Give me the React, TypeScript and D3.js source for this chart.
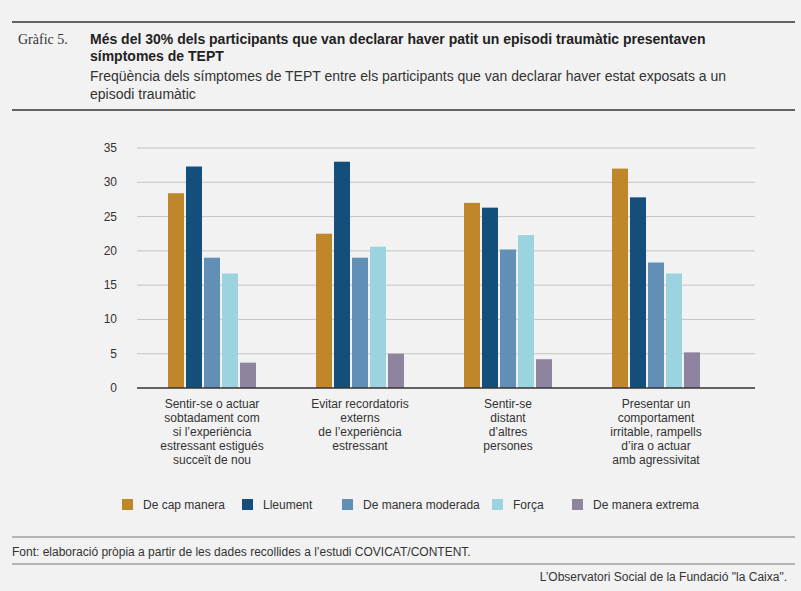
import React from "react";
import * as d3 from "d3";

const categories = [
  ["Sentir-se o actuar", "sobtadament com", "si l’experiència", "estressant estigués", "succeït de nou"],
  ["Evitar recordatoris", "externs", "de l’experiència", "estressant"],
  ["Sentir-se", "distant", "d’altres", "persones"],
  ["Presentar un", "comportament", "irritable, rampells", "d’ira o actuar", "amb agressivitat"],
];
const seriesNames = ["De cap manera", "Lleument", "De manera moderada", "Força", "De manera extrema"];
const colors = ["#C0862A", "#134F7A", "#628FB5", "#9BD3DE", "#8F84A0"];
const values = [
  [28.4, 32.3, 19.0, 16.7, 3.7],
  [22.5, 33.0, 19.0, 20.6, 5.0],
  [27.0, 26.3, 20.2, 22.3, 4.2],
  [32.0, 27.8, 18.3, 16.7, 5.2],
];
const yTicks = [0, 5, 10, 15, 20, 25, 30, 35];
const legendX = [122, 242, 342, 492, 572];

const W = 801, H = 591;
const font = "'Liberation Sans', Arial, sans-serif";

export default function App() {
  const x = d3.scaleBand<number>().domain([0, 1, 2, 3]).range([138, 730]).paddingInner(0);
  const y = d3.scaleLinear().domain([0, 35]).range([388, 148]);
  const bw = 16, gap = 2;
  return (
    <svg width={W} height={H} style={{ position: "absolute", left: 0, top: 0, background: "#f2f2f2" }}>
      <rect width={W} height={H} fill="#f2f2f2" />
      <line x1={12} x2={795} y1={22} y2={22} stroke="#333" strokeWidth={1.5} />
      <text x={18} y={44} fontFamily="'Liberation Serif', serif" fontSize={14} fill="#333">Gràfic 5.</text>
      <text fontFamily={font} fontSize={14} fontWeight="bold" fill="#222">
        <tspan x={90} y={44}>Més del 30% dels participants que van declarar haver patit un episodi traumàtic presentaven</tspan>
        <tspan x={90} y={61}>símptomes de TEPT</tspan>
      </text>
      <text fontFamily={font} fontSize={14} fill="#333">
        <tspan x={90} y={81}>Freqüència dels símptomes de TEPT entre els participants que van declarar haver estat exposats a un</tspan>
        <tspan x={90} y={99}>episodi traumàtic</tspan>
      </text>
      <line x1={12} x2={795} y1={110} y2={110} stroke="#333" strokeWidth={1.5} />

      {yTicks.map((t) => (
        <g key={t}>
          {t > 0 && <line x1={137} x2={755} y1={y(t)} y2={y(t)} stroke="#c4c4c4" strokeWidth={1} />}
          <text x={117} y={y(t) + 4} textAnchor="end" fontFamily={font} fontSize={12} fill="#333">{t}</text>
        </g>
      ))}
      {values.map((row, gi) => {
        const cx = x(gi)! + x.bandwidth() / 2;
        const start = cx - (5 * bw + 4 * gap) / 2;
        return (
          <g key={gi}>
            {row.map((v, si) => (
              <rect key={si} x={start + si * (bw + gap)} y={y(v)} width={bw} height={y(0) - y(v)} fill={colors[si]} />
            ))}
            <text fontFamily={font} fontSize={12} fill="#333" textAnchor="middle">
              {categories[gi].map((l, li) => (
                <tspan key={li} x={cx} y={408 + li * 14}>{l}</tspan>
              ))}
            </text>
          </g>
        );
      })}
      <line x1={137} x2={755} y1={388} y2={388} stroke="#333" strokeWidth={1.5} />

      {seriesNames.map((s, i) => (
        <g key={s} transform={`translate(${legendX[i]},499)`}>
          <rect width={11} height={11} fill={colors[i]} />
          <text x={21} y={10} fontFamily={font} fontSize={12} fill="#333">{s}</text>
        </g>
      ))}
      <line x1={12} x2={795} y1={537} y2={537} stroke="#777" strokeWidth={1} />
      <text x={12} y={556} fontFamily={font} fontSize={12} fill="#333">Font: elaboració pròpia a partir de les dades recollides a l’estudi COVICAT/CONTENT.</text>
      <line x1={12} x2={795} y1={564} y2={564} stroke="#777" strokeWidth={1} />
      <text x={787} y={581} textAnchor="end" fontFamily={font} fontSize={12} fill="#333">L’Observatori Social de la Fundació "la Caixa".</text>
    </svg>
  );
}
